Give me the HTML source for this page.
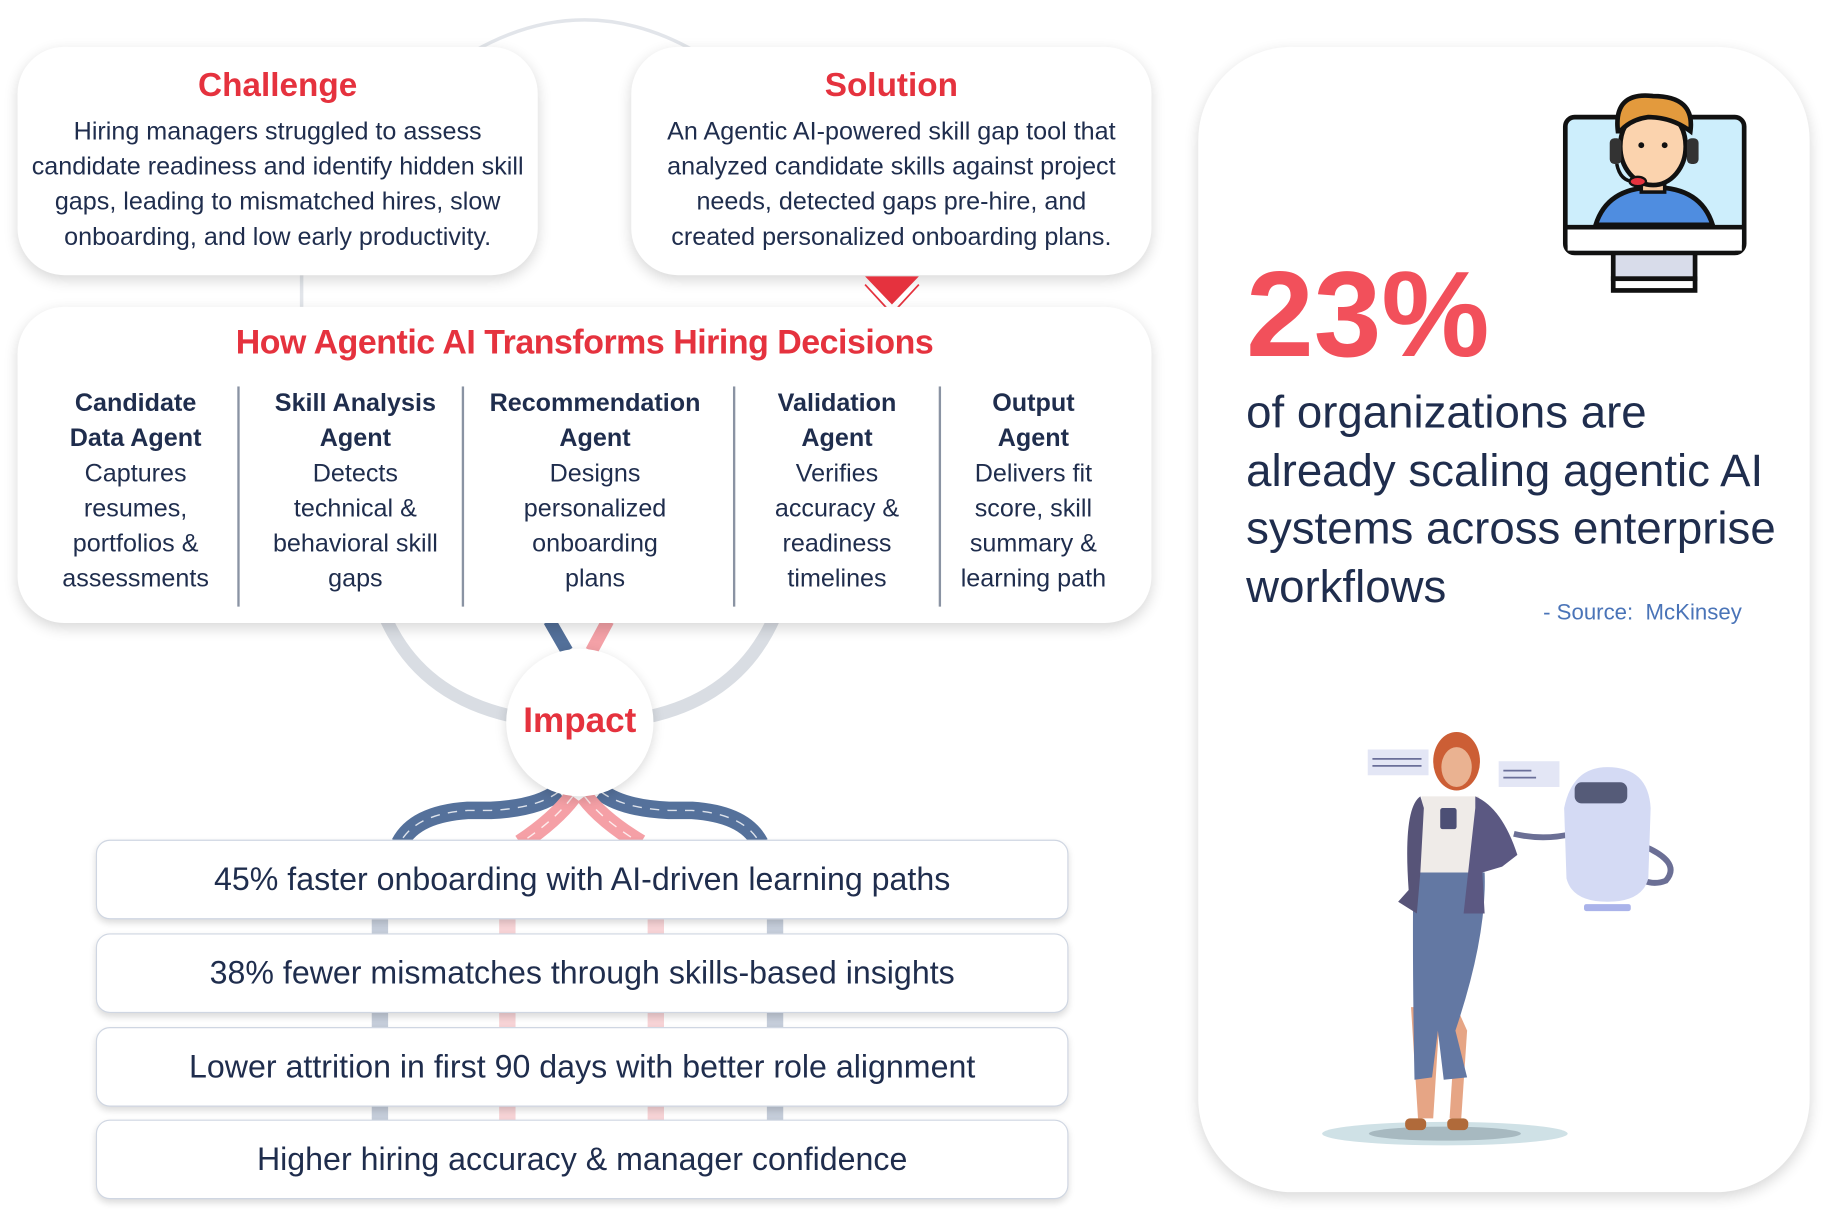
<!DOCTYPE html>
<html><head><meta charset="utf-8"><style>
html,body{margin:0;padding:0;background:#fff;width:1833px;height:1225px;overflow:hidden}
#w{position:absolute;left:0;top:0;width:1568px;height:1046px;transform-origin:0 0;transform:scale(1.16901,1.1711);font-family:"Liberation Sans",sans-serif;color:#1f2d4d}
.card{position:absolute;background:#fff;border-radius:40px;box-shadow:0 4px 12px rgba(0,0,0,.16)}
.t{position:absolute;text-align:center;white-space:nowrap}
.red{color:#e5323e;font-weight:bold}
.body{font-size:21.5px;line-height:30px}
.col{position:absolute;top:329px;text-align:center;font-size:21.5px;line-height:30px;white-space:nowrap}
.col b{display:block}
.div{position:absolute;top:330px;width:1.5px;height:188px;background:#8a93a3}
.box{position:absolute;left:82px;width:830px;height:66px;background:#fff;border:1px solid #cfd6e2;border-radius:12px;box-shadow:0 3px 6px rgba(0,0,0,.14);font-size:27.5px;line-height:66px;text-align:center}
</style></head><body><div id="w">
<svg width="1568" height="1046" style="position:absolute;left:0;top:0">
<path d="M405 44 Q500 -10 595 44" fill="none" stroke="#e2e5ea" stroke-width="3"/>
<line x1="258" y1="235" x2="258" y2="265" stroke="#e2e5ea" stroke-width="3"/>
<path d="M330 528 Q360 595 440 612" fill="none" stroke="#d9dde3" stroke-width="11"/>
<path d="M662 528 Q632 595 555 612" fill="none" stroke="#d9dde3" stroke-width="11"/>
<path d="M470 530 L485 556" stroke="#53709a" stroke-width="11"/>
<path d="M520 530 L506 556" stroke="#f4a1a7" stroke-width="11"/>
<g fill="none" stroke-width="15">
<path d="M478 676 Q460 690 420 692 L400 692 Q355 695 342 720" stroke="#55719b"/>
<path d="M514 676 Q532 690 572 692 L592 692 Q637 695 650 720" stroke="#55719b"/>
<path d="M490 680 Q475 700 445 720" stroke="#f5a0a6"/>
<path d="M500 680 Q515 700 548 720" stroke="#f5a0a6"/>
</g>
<g fill="none" stroke="#fff" stroke-width="1.2" stroke-dasharray="8 7" opacity=".8">
<path d="M478 676 Q460 690 420 692 L400 692 Q355 695 342 720"/>
<path d="M514 676 Q532 690 572 692 L592 692 Q637 695 650 720"/>
<path d="M490 680 Q475 700 445 720"/><path d="M500 680 Q515 700 548 720"/>
</g>
<g opacity=".5"><rect x="318" y="785" width="14" height="180" fill="#8c9bb5"/><rect x="656" y="785" width="14" height="180" fill="#8c9bb5"/><rect x="427" y="785" width="14" height="180" fill="#f0a8ad"/><rect x="554" y="785" width="14" height="180" fill="#f0a8ad"/></g>
</svg>
<div class="card" style="left:15px;top:40px;width:445px;height:195px"></div>
<div class="t red" style="left:15px;width:445px;top:57px;font-size:28.5px">Challenge</div>
<div class="t body" style="left:15px;width:445px;top:97px">Hiring managers struggled to assess<br>candidate readiness and identify hidden skill<br>gaps, leading to mismatched hires, slow<br>onboarding, and low early productivity.</div>
<div class="card" style="left:540px;top:40px;width:445px;height:195px"></div>
<div class="t red" style="left:540px;width:445px;top:57px;font-size:28.5px">Solution</div>
<div class="t body" style="left:540px;width:445px;top:97px">An Agentic AI-powered skill gap tool that<br>analyzed candidate skills against project<br>needs, detected gaps pre-hire, and<br>created personalized onboarding plans.</div>
<svg width="1568" height="1046" style="position:absolute;left:0;top:0"><path d="M740 236 L786 236 L763 260Z" fill="#e5323e"/><path d="M740 243 L763 268 L786 243" fill="none" stroke="#e5323e" stroke-width="1.5"/></svg>
<div class="card" style="left:15px;top:262px;width:970px;height:270px"></div>
<div class="t red" style="left:15px;width:970px;top:277px;font-size:29px;letter-spacing:-.4px">How Agentic AI Transforms Hiring Decisions</div>
<div class="div" style="left:203px"></div><div class="div" style="left:395px"></div><div class="div" style="left:627px"></div><div class="div" style="left:803px"></div>
<div class="col" style="left:16px;width:200px"><b>Candidate<br>Data Agent</b>Captures<br>resumes,<br>portfolios &amp;<br>assessments</div>
<div class="col" style="left:204px;width:200px"><b>Skill Analysis<br>Agent</b>Detects<br>technical &amp;<br>behavioral skill<br>gaps</div>
<div class="col" style="left:399px;width:220px"><b>Recommendation<br>Agent</b>Designs<br>personalized<br>onboarding<br>plans</div>
<div class="col" style="left:616px;width:200px"><b>Validation<br>Agent</b>Verifies<br>accuracy &amp;<br>readiness<br>timelines</div>
<div class="col" style="left:784px;width:200px"><b>Output<br>Agent</b>Delivers fit<br>score, skill<br>summary &amp;<br>learning path</div>
<div style="position:absolute;left:433px;top:554px;width:126px;height:126px;border-radius:50%;background:#fff;box-shadow:0 3px 10px rgba(0,0,0,.15)"></div>
<div class="t red" style="left:433px;width:126px;top:599px;font-size:30px">Impact</div>
<div class="box" style="top:717px">45% faster onboarding with AI-driven learning paths</div>
<div class="box" style="top:797px">38% fewer mismatches through skills-based insights</div>
<div class="box" style="top:877px">Lower attrition in first 90 days with better role alignment</div>
<div class="box" style="top:956px">Higher hiring accuracy &amp; manager confidence</div>
<div class="card" style="left:1025px;top:40px;width:523px;height:978px;border-radius:80px"></div>
<div style="position:absolute;left:1066px;top:210px;font-size:104px;font-weight:bold;color:#f2505b;letter-spacing:0px">23%</div>
<div style="position:absolute;left:1066px;top:328px;font-size:39px;line-height:49.5px;white-space:nowrap">of organizations are<br>already scaling agentic AI<br>systems across enterprise<br>workflows</div>
<div style="position:absolute;left:1320px;top:513px;font-size:19px;color:#4a74b8;white-space:nowrap">- Source:&nbsp; McKinsey</div>
<svg width="1568" height="1046" style="position:absolute;left:0;top:0">
<rect x="1380" y="212" width="70" height="26" fill="#d8dcea" stroke="#111" stroke-width="4"/>
<rect x="1380" y="238" width="70" height="10" fill="#fff" stroke="#111" stroke-width="4"/>
<rect x="1339" y="100" width="153" height="116" rx="8" fill="#cdeefc" stroke="#111" stroke-width="4"/>
<rect x="1341" y="194" width="149" height="20" fill="#fff"/><line x1="1339" y1="194" x2="1492" y2="194" stroke="#111" stroke-width="4"/>
<path d="M1365 192 Q1375 160 1415 160 Q1455 160 1465 192Z" fill="#4f8de0" stroke="#111" stroke-width="4"/>
<rect x="1404" y="140" width="20" height="24" fill="#f7c9a0" stroke="#111" stroke-width="3"/>
<ellipse cx="1414" cy="125" rx="28" ry="33" fill="#fbd3ae" stroke="#111" stroke-width="4"/>
<path d="M1384 112 Q1380 78 1414 82 Q1450 82 1446 112 Q1430 100 1410 100 Q1395 102 1386 112Z" fill="#e39a3d" stroke="#111" stroke-width="4"/>
<rect x="1377" y="118" width="10" height="22" rx="4" fill="#333"/><rect x="1443" y="118" width="10" height="22" rx="4" fill="#333"/>
<path d="M1383 140 Q1386 155 1398 155" fill="none" stroke="#111" stroke-width="3"/><ellipse cx="1401" cy="155" rx="7" ry="4" fill="#e5323e" stroke="#111" stroke-width="2"/>
<circle cx="1404" cy="124" r="2.5" fill="#111"/><circle cx="1424" cy="124" r="2.5" fill="#111"/>
<ellipse cx="1236" cy="968" rx="105" ry="10" fill="#cfe1e6"/><ellipse cx="1236" cy="968" rx="65" ry="6" fill="#a7b9c0"/>
<rect x="1170" y="640" width="52" height="22" fill="#e3e6f5"/><rect x="1282" y="650" width="52" height="22" fill="#e3e6f5"/>
<g stroke="#6a6f99" stroke-width="1.5"><line x1="1174" y1="648" x2="1216" y2="648"/><line x1="1174" y1="654" x2="1216" y2="654"/><line x1="1286" y1="658" x2="1310" y2="658"/><line x1="1286" y1="664" x2="1314" y2="664"/></g>
<path d="M1213 955 L1207 860 L1232 860 L1226 955Z" fill="#e6a585"/><path d="M1240 955 L1246 860 L1255 880 L1250 955Z" fill="#e6a585"/>
<rect x="1202" y="955" width="18" height="10" rx="4" fill="#b06a3a"/><rect x="1238" y="955" width="18" height="10" rx="4" fill="#b06a3a"/>
<path d="M1209 745 L1270 745 Q1272 800 1245 880 L1255 920 L1235 922 L1230 880 L1225 920 L1210 922 Q1208 820 1209 745Z" fill="#6378a3"/>
<path d="M1216 680 L1265 680 L1268 745 L1214 745Z" fill="#efebe8"/>
<path d="M1215 680 Q1200 690 1205 760 L1196 770 L1212 780 L1215 745 L1218 690Z" fill="#575478"/>
<path d="M1262 680 Q1285 690 1298 730 L1285 740 L1268 745 L1270 780 L1252 780 L1262 690Z" fill="#5b5882"/>
<ellipse cx="1246" cy="650" rx="20" ry="25" fill="#cc5e35"/><ellipse cx="1246" cy="655" rx="13" ry="17" fill="#eab291"/>
<rect x="1232" y="690" width="14" height="18" rx="2" fill="#4c4f75"/>
<path d="M1295 712 Q1320 718 1345 712" fill="none" stroke="#6b6f95" stroke-width="5"/>
<path d="M1400 720 Q1440 735 1425 752 Q1410 758 1395 745" fill="none" stroke="#6b6f95" stroke-width="5"/>
<path d="M1338 690 Q1345 655 1375 655 Q1410 655 1412 690 L1410 750 Q1405 770 1375 770 Q1345 770 1340 750Z" fill="#d4daf4"/>
<rect x="1347" y="668" width="45" height="18" rx="6" fill="#555b78"/>
<rect x="1355" y="772" width="40" height="6" rx="2" fill="#aab3ea"/>
</svg>
</div></body></html>
